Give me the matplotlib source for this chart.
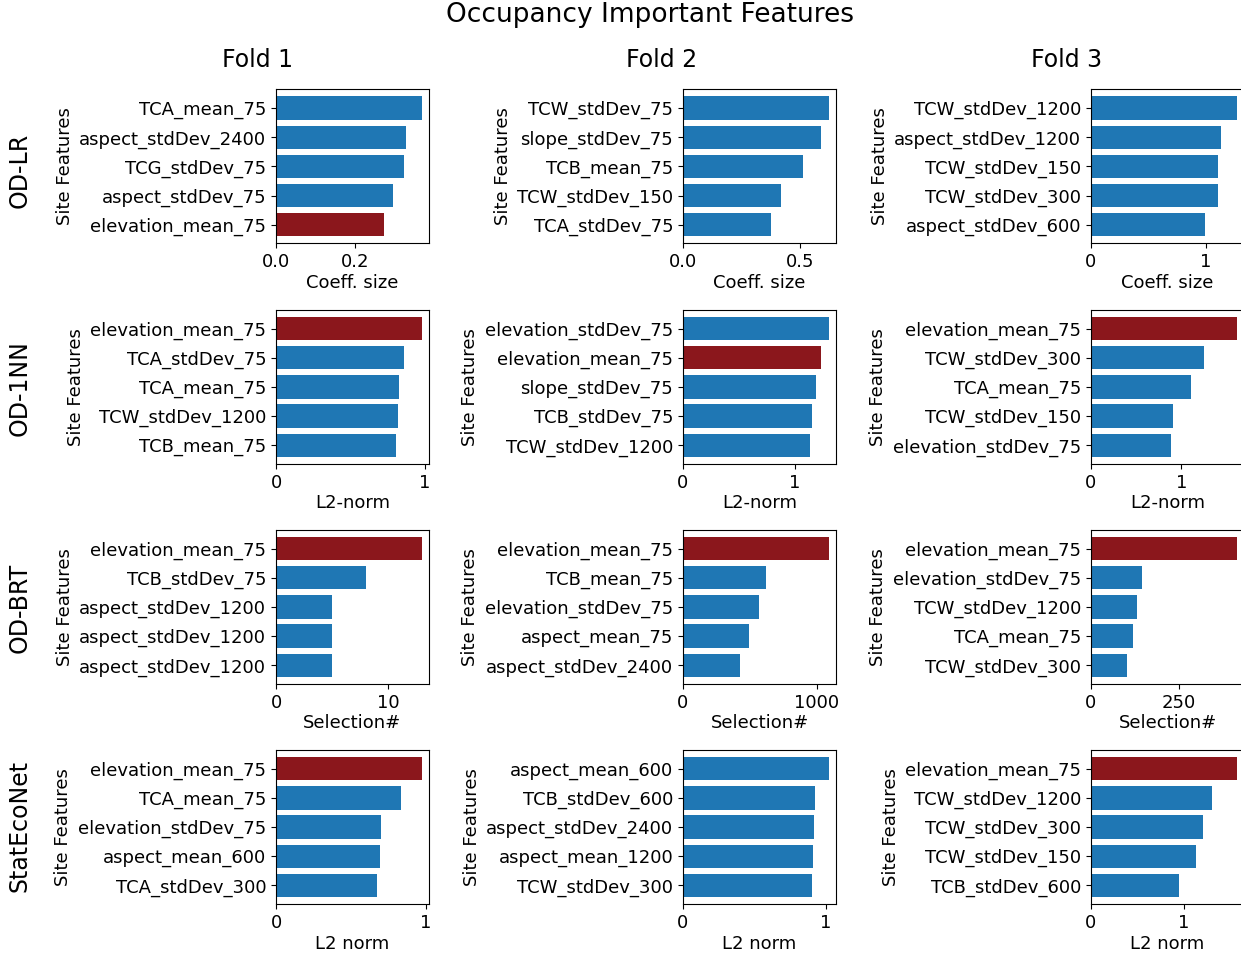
import matplotlib
matplotlib.use("Agg")
import matplotlib.pyplot as plt

# rows = models, cols = folds; features listed top to bottom
models = ["OD-LR", "OD-1NN", "OD-BRT", "StatEcoNet"]
folds = ["Fold 1", "Fold 2", "Fold 3"]
xlabels = ["Coeff. size", "L2-norm", "Selection#", "L2 norm"]

lr_feats = [
    ["TCA_mean_75", "aspect_stdDev_2400", "TCG_stdDev_75", "aspect_stdDev_75", "elevation_mean_75"],
    ["TCW_stdDev_75", "slope_stdDev_75", "TCB_mean_75", "TCW_stdDev_150", "TCA_stdDev_75"],
    ["TCW_stdDev_1200", "aspect_stdDev_1200", "TCW_stdDev_150", "TCW_stdDev_300", "aspect_stdDev_600"],
]
lr_vals = [
    [0.367, 0.328, 0.323, 0.295, 0.272],
    [0.624, 0.593, 0.512, 0.419, 0.375],
    [1.27, 1.137, 1.11, 1.11, 0.995],
]

nn_feats = [
    ["elevation_mean_75", "TCA_stdDev_75", "TCA_mean_75", "TCW_stdDev_1200", "TCB_mean_75"],
    ["elevation_stdDev_75", "elevation_mean_75", "slope_stdDev_75", "TCB_stdDev_75", "TCW_stdDev_1200"],
    ["elevation_mean_75", "TCW_stdDev_300", "TCA_mean_75", "TCW_stdDev_150", "elevation_stdDev_75"],
]
nn_vals = [
    [0.979, 0.86, 0.825, 0.82, 0.804],
    [1.30, 1.233, 1.19, 1.148, 1.137],
    [1.614, 1.25, 1.105, 0.903, 0.881],
]

brt_feats = [
    ["elevation_mean_75", "TCB_stdDev_75", "aspect_stdDev_1200", "aspect_stdDev_1200", "aspect_stdDev_1200"],
    ["elevation_mean_75", "TCB_mean_75", "elevation_stdDev_75", "aspect_mean_75", "aspect_stdDev_2400"],
    ["elevation_mean_75", "elevation_stdDev_75", "TCW_stdDev_1200", "TCA_mean_75", "TCW_stdDev_300"],
]
brt_vals = [
    [13, 8, 5, 5, 5],
    [1091, 618, 571, 497, 424],
    [413, 144, 129, 118, 101],
]

sen_feats = [
    ["elevation_mean_75", "TCA_mean_75", "elevation_stdDev_75", "aspect_mean_600", "TCA_stdDev_300"],
    ["aspect_mean_600", "TCB_stdDev_600", "aspect_stdDev_2400", "aspect_mean_1200", "TCW_stdDev_300"],
    ["elevation_mean_75", "TCW_stdDev_1200", "TCW_stdDev_300", "TCW_stdDev_150", "TCB_stdDev_600"],
]
sen_vals = [
    [0.974, 0.834, 0.702, 0.695, 0.674],
    [1.022, 0.923, 0.917, 0.909, 0.905],
    [1.567, 1.298, 1.20, 1.124, 0.941],
]

all_feats = [lr_feats, nn_feats, brt_feats, sen_feats]
all_vals = [lr_vals, nn_vals, brt_vals, sen_vals]

BLUE = "#1f77b4"
RED = "#8b171c"
HIGHLIGHT = "elevation_mean_75"

W, H = 1241, 955
fig = plt.figure(figsize=(W / 100, H / 100), dpi=100)

lefts = [276, 683, 1091]
bottoms = [243.5, 464, 684, 904]
ax_w, ax_h = 153, 154

for r in range(4):
    for c in range(3):
        ax = fig.add_axes([lefts[c] / W, 1 - bottoms[r] / H, ax_w / W, ax_h / H])
        feats = all_feats[r][c]
        vals = all_vals[r][c]
        colors = [RED if f == HIGHLIGHT else BLUE for f in feats]
        ypos = list(range(len(feats)))
        ax.barh(ypos, vals, color=colors)
        ax.set_yticks(ypos)
        ax.set_yticklabels(feats)
        ax.invert_yaxis()
        ax.tick_params(labelsize=13)
        ax.set_xlabel(xlabels[r], fontsize=13, labelpad=2)
        ax.set_ylabel("Site Features", fontsize=13)

for c, name in enumerate(folds):
    fig.text([257, 662, 1067][c] / W, 1 - 60 / H, name, fontsize=17,
             ha="center", va="center")

for r, name in enumerate(models):
    fig.text(20 / W, 1 - [170, 388, 608, 826][r] / H, name, fontsize=17,
             rotation=90, ha="center", va="center")

fig.suptitle("Occupancy Important Features", x=650 / W, y=1 - 15 / H,
             fontsize=19, va="center")

fig.savefig("out.png", dpi=100)
